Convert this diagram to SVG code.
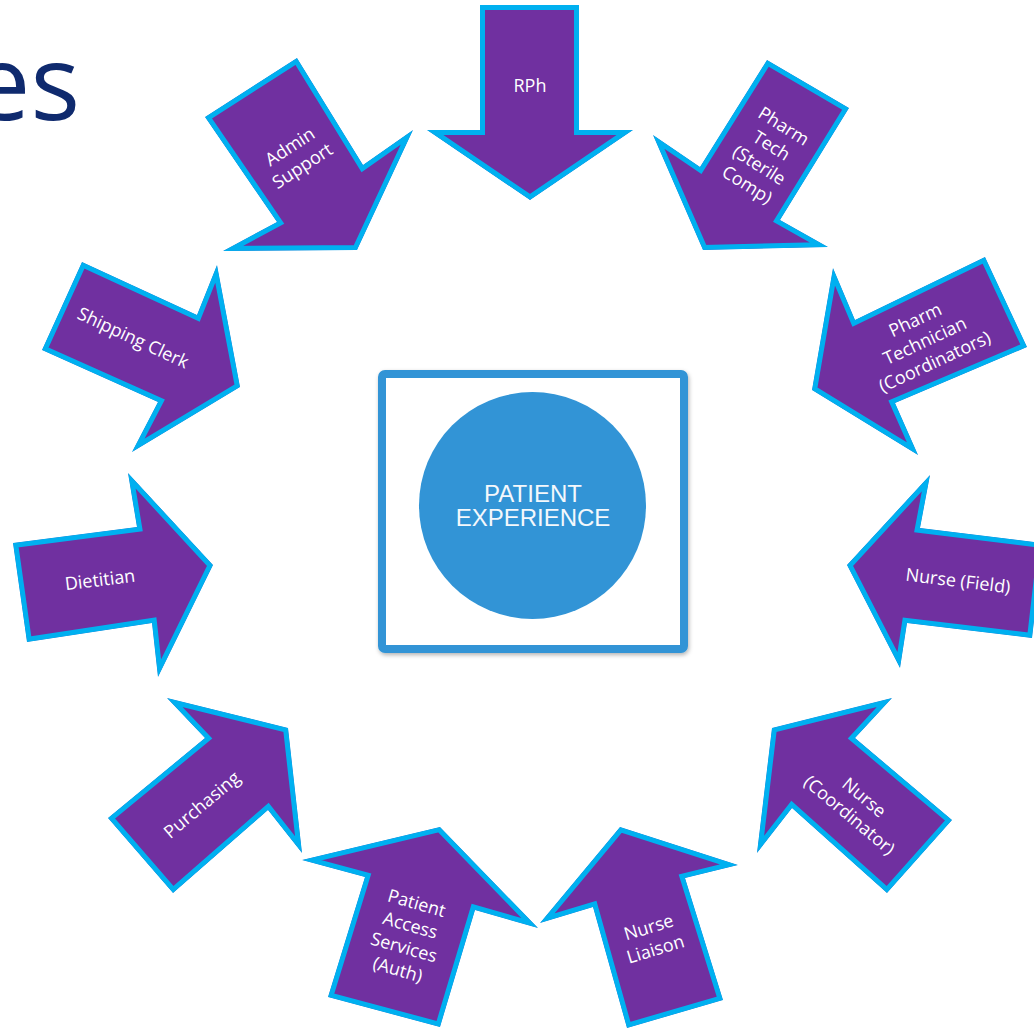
<svg xmlns="http://www.w3.org/2000/svg" xmlns:xlink="http://www.w3.org/1999/xlink" width="1034" height="1030" viewBox="0 0 1034 1030">
  <style>
    .arrow { fill: #7030A0; stroke: #00B0F0; stroke-width: 10; stroke-linejoin: miter; stroke-miterlimit: 10; }
    .lbl { fill: #FFFFFF; font-family: "Open Sans", "Liberation Sans", sans-serif; font-size: 18px; text-anchor: middle; }
    .hub { fill: #F4F8FC; font-family: "Liberation Sans", Arial, sans-serif; font-size: 24px; text-anchor: middle; }
    .title { fill: #0F2A6E; font-family: "Open Sans", "Liberation Sans", sans-serif; font-size: 104px; font-weight: 400; }
  </style>
  <defs>
    <!-- arrow outlines (outer edge of the border) -->
    <polygon id="p-rph" points="480,5 579,5 579,130 633,130 530,200 427,130 480,130"/>
    <polygon id="p-admin" points="205,117 297,58 363,165 413,130 357,250 223,251 277,222"/>
    <polygon id="p-sterile" points="767,60 849,108 780,220 828,247 703,250 653,135 700,167"/>
    <polygon id="p-coord" points="833,268 855,320 985,257 1027,347 895,403 918,455 812,390"/>
    <polygon id="p-field" points="930,475 920,528 1043,543 1032,638 907,623 900,668 847,565"/>
    <polygon id="p-ncoord" points="772,728 892,698 855,738 952,820 887,893 792,808 757,853"/>
    <polygon id="p-liaison" points="620,827 738,865 685,878 723,1000 627,1028 593,907 540,923"/>
    <polygon id="p-access" points="440,827 538,928 475,910 440,1027 328,997 365,877 302,860"/>
    <polygon id="p-purch" points="167,698 205,738 108,818 173,893 268,810 302,853 288,728"/>
    <polygon id="p-diet" points="128,473 137,527 13,543 27,642 152,623 158,677 213,565"/>
    <polygon id="p-ship" points="82,262 197,315 217,265 240,387 132,452 158,402 42,350"/>
    <!-- border drawn inside the outline only -->
    <clipPath id="c-rph"><use xlink:href="#p-rph"/></clipPath>
    <clipPath id="c-admin"><use xlink:href="#p-admin"/></clipPath>
    <clipPath id="c-sterile"><use xlink:href="#p-sterile"/></clipPath>
    <clipPath id="c-coord"><use xlink:href="#p-coord"/></clipPath>
    <clipPath id="c-field"><use xlink:href="#p-field"/></clipPath>
    <clipPath id="c-ncoord"><use xlink:href="#p-ncoord"/></clipPath>
    <clipPath id="c-liaison"><use xlink:href="#p-liaison"/></clipPath>
    <clipPath id="c-access"><use xlink:href="#p-access"/></clipPath>
    <clipPath id="c-purch"><use xlink:href="#p-purch"/></clipPath>
    <clipPath id="c-diet"><use xlink:href="#p-diet"/></clipPath>
    <clipPath id="c-ship"><use xlink:href="#p-ship"/></clipPath>
    <filter id="shadow" x="-10%" y="-10%" width="120%" height="120%">
      <feDropShadow dx="1" dy="2" stdDeviation="2" flood-color="#000000" flood-opacity="0.3"/>
    </filter>
    <filter id="soft"><feGaussianBlur stdDeviation="0.6"/></filter>
  </defs>

  <rect width="1034" height="1030" fill="#FFFFFF"/>

  <!-- slide title fragment, running off the left edge -->
  <text class="title" x="80" y="120" text-anchor="end">es</text>

  <!-- centre hub -->
  <g id="patient-experience">
    <rect x="382" y="374" width="302" height="275" rx="3" fill="#FFFFFF" stroke="#3094D6" stroke-width="8" filter="url(#shadow)"/>
    <circle cx="532.5" cy="505.5" r="113.5" fill="#3094D6" filter="url(#soft)"/>
    <text class="hub" x="533" y="501.5">PATIENT</text>
    <text class="hub" x="533" y="526">EXPERIENCE</text>
  </g>

  <!-- roles feeding into the hub -->
  <g id="rph">
    <use xlink:href="#p-rph" class="arrow" clip-path="url(#c-rph)"/>
    <text class="lbl" x="530" y="92">RPh</text>
  </g>

  <g id="admin-support">
    <use xlink:href="#p-admin" class="arrow" clip-path="url(#c-admin)"/>
    <g transform="translate(296,156) rotate(-33)">
      <text class="lbl" y="-5">Admin</text>
      <text class="lbl" y="18">Support</text>
    </g>
  </g>

  <g id="pharm-tech-sterile">
    <use xlink:href="#p-sterile" class="arrow" clip-path="url(#c-sterile)"/>
    <g transform="translate(765,156) rotate(32)">
      <text class="lbl" y="-29">Pharm</text>
      <text class="lbl" y="-6">Tech</text>
      <text class="lbl" y="17">(Sterile</text>
      <text class="lbl" y="40">Comp)</text>
    </g>
  </g>

  <g id="pharm-technician-coordinators">
    <use xlink:href="#p-coord" class="arrow" clip-path="url(#c-coord)"/>
    <g transform="translate(925,341) rotate(-25)">
      <text class="lbl" y="-17">Pharm</text>
      <text class="lbl" y="6">Technician</text>
      <text class="lbl" y="29">(Coordinators)</text>
    </g>
  </g>

  <g id="nurse-field">
    <use xlink:href="#p-field" class="arrow" clip-path="url(#c-field)"/>
    <g transform="translate(958,581) rotate(7)">
      <text class="lbl" y="6">Nurse (Field)</text>
    </g>
  </g>

  <g id="nurse-coordinator">
    <use xlink:href="#p-ncoord" class="arrow" clip-path="url(#c-ncoord)"/>
    <g transform="translate(857,806) rotate(40)">
      <text class="lbl" y="-5">Nurse</text>
      <text class="lbl" y="18">(Coordinator)</text>
    </g>
  </g>

  <g id="nurse-liaison">
    <use xlink:href="#p-liaison" class="arrow" clip-path="url(#c-liaison)"/>
    <g transform="translate(652,938) rotate(-17)">
      <text class="lbl" y="-5">Nurse</text>
      <text class="lbl" y="18">Liaison</text>
    </g>
  </g>

  <g id="patient-access-services">
    <use xlink:href="#p-access" class="arrow" clip-path="url(#c-access)"/>
    <g transform="translate(407,937) rotate(16)">
      <text class="lbl" y="-29">Patient</text>
      <text class="lbl" y="-6">Access</text>
      <text class="lbl" y="17">Services</text>
      <text class="lbl" y="40">(Auth)</text>
    </g>
  </g>

  <g id="purchasing">
    <use xlink:href="#p-purch" class="arrow" clip-path="url(#c-purch)"/>
    <g transform="translate(202,805) rotate(-40)">
      <text class="lbl" y="6">Purchasing</text>
    </g>
  </g>

  <g id="dietitian">
    <use xlink:href="#p-diet" class="arrow" clip-path="url(#c-diet)"/>
    <g transform="translate(100,580) rotate(-7)">
      <text class="lbl" y="6">Dietitian</text>
    </g>
  </g>

  <g id="shipping-clerk">
    <use xlink:href="#p-ship" class="arrow" clip-path="url(#c-ship)"/>
    <g transform="translate(133,338) rotate(25)">
      <text class="lbl" y="6">Shipping Clerk</text>
    </g>
  </g>
</svg>
